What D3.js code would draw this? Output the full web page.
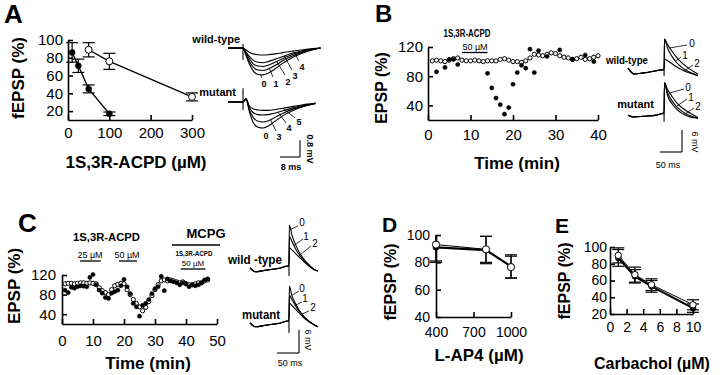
<!DOCTYPE html>
<html>
<head>
<meta charset="utf-8">
<script src="https://cdn.jsdelivr.net/npm/d3@7"></script>
<style>
  body { margin: 0; background: #fff; }
  svg { font-family: "Liberation Sans", Arial, Helvetica, sans-serif; }
</style>
</head>
<body>
<div id="fig"></div>
<script>
// ---------- data ----------
// A: fEPSP vs 1S,3R-ACPD dose
var doseA_wt = [50, 100, 300];
var fepspA_wt = [89, 76, 36];
var errA_wt = [8, 9, 4.5];
var doseA_mut = [10, 25, 50, 100];
var fepspA_mut = [86, 71, 45, 17];
var errA_mut = [11, 7.5, 4.5, 2];

// B: EPSP time course, 50 uM ACPD
var timeB_wt = [1,2,3,4,5,6,7,8,9,10,11,12,13,14,15,16,17,18,19,20,21,22,23,24,25,26,27,28,29,30,31,32,33,34,35,36,37,38,39,40];
var epspB_wt = [101,102,101,100,102,104,105,102,101,101,102,101,100,101,101,101,103,104,102,100,100,99,101,105,110,109,108,110,112,111,108,106,105,103,104,106,103,104,106,108];
var timeB_mut = [2,4,5,6,7,14,15,16,17,18,19,20,21,22,23,24,25,26,28,31,34,37,39];
var epspB_mut = [86,92,103,103,96,84,64,50,41,28,37,69,85,95,91,117,85,115,107,116,103,109,100];
var barB = [8, 14];

// C: EPSP time course, ACPD then MCPG
var timeC = [1,2,3,4,5,6,7,8,9,10,11,12,13,14,15,16,17,18,19,20,21,22,23,24,25,26,27,28,29,30,31,32,33,34,35,36,37,38,39,40,41,42,43,44,45,46,47];
var epspC_wt = [102,103,103,102,103,104,104,103,104,103,102,94,88,84,80,90,98,101,103,102,90,80,70,62,55,47,54,66,78,90,100,108,110,108,110,108,106,104,106,102,100,100,102,104,104,108,110];
var epspC_mut = [89,84,95,93,96,98,97,96,115,121,100,89,83,74,72,83,86,89,98,111,96,82,62,55,36,58,62,70,82,92,96,117,88,112,108,106,104,100,104,102,96,100,98,100,104,110,112];
var barC25 = [5.8, 12.5];
var barC50 = [18.4, 24.2];
var barMCPG = [35.5, 51];
var barC50b = [38.3, 46.3];

// D: fEPSP vs L-AP4
var doseD = [400, 800, 1000];
var fepspD_wt = [93, 89.5, 76.5];
var errD_wt = [12, 9.5, 8];
var fepspD_mut = [91, 89, 77];
var errD_mut = [11, 10, 8.5];

// E: fEPSP vs carbachol
var doseE = [1, 3, 5, 10];
var fepspE_wt = [90, 67, 55, 31];
var errE_wt = [9, 9, 7, 6];
var fepspE_mut = [87, 65, 53, 27];
var errE_mut = [10, 8, 7, 5];

// sample traces (ms, mV)
var trTimeA = [0, 6, 7, 8.5, 10, 12, 14, 16, 19, 22, 26, 30, 34, 37];
var trA_wt = [
  [0, 0, -0.3, -0.75, -1.08, -1.26, -1.28, -1.2, -0.98, -0.72, -0.44, -0.24, -0.08, 0],
  [0, 0, -0.25, -0.62, -0.9, -1.05, -1.07, -1.0, -0.82, -0.6, -0.37, -0.2, -0.07, 0],
  [0, 0, -0.2, -0.5, -0.74, -0.86, -0.88, -0.82, -0.67, -0.5, -0.3, -0.16, -0.06, 0],
  [0, 0, -0.16, -0.4, -0.58, -0.68, -0.7, -0.65, -0.53, -0.4, -0.24, -0.13, -0.05, 0],
  [0, 0, -0.08, -0.2, -0.28, -0.32, -0.33, -0.32, -0.28, -0.22, -0.14, -0.08, -0.03, 0]
];
var tagsA_wt = ["0", "1", "2", "3", "4"];
var trTimeAm = [0, 6, 7.2, 8.5, 10, 12, 14, 16, 19, 22, 26, 30, 34, 35];
var trA_mut = [
  [0, 0, 0.15, -0.45, -0.95, -1.2, -1.24, -1.15, -0.9, -0.65, -0.4, -0.22, -0.1, -0.08],
  [0, 0, 0.15, -0.35, -0.72, -0.92, -0.95, -0.9, -0.72, -0.54, -0.34, -0.2, -0.09, -0.07],
  [0, 0, 0.15, -0.25, -0.5, -0.6, -0.62, -0.6, -0.52, -0.42, -0.28, -0.17, -0.08, -0.06],
  [0, 0, 0.15, -0.18, -0.32, -0.38, -0.4, -0.4, -0.36, -0.3, -0.21, -0.13, -0.07, -0.05]
];
var tagsA_mut = ["0", "3", "4", "5"];

var trTimeB = [0, 14, 35, 65, 80, 82, 83, 90, 100, 110, 120, 135, 150, 159];
var trB_wt = [
  [1.6, 0, 0.3, 0.9, 1.2, 1.2, 9.5, 8.0, 6.2, 4.6, 3.3, 1.8, 0.6, 0.0],
  [1.6, 0, 0.3, 0.9, 1.2, 1.2, 9.5, 7.0, 4.8, 3.2, 2.0, 0.8, 0.0, -0.4],
  [1.6, 0, 0.3, 0.9, 1.2, 1.2, 4.0, 3.6, 2.8, 2.0, 1.3, 0.5, -0.1, -0.5]
];
var trB_mut = [
  [0.5, 0, 0.2, 0.5, 1.0, 1.0, 9.3, 7.5, 5.6, 4.0, 2.8, 1.5, 0.5, -0.2],
  [0.5, 0, 0.2, 0.5, 1.0, 1.0, 9.3, 6.6, 4.4, 2.9, 1.8, 0.7, 0.0, -0.3],
  [0.5, 0, 0.2, 0.5, 1.0, 1.0, 9.3, 5.8, 3.6, 2.2, 1.2, 0.3, -0.2, -0.3]
];
var trTimeC = [0, 12, 35, 70, 86, 88.6, 89.5, 95, 105, 115, 125, 135, 145, 154];
var trC_wt = [
  [0.8, -0.2, 0.2, 0.8, 1.3, 1.3, 12, 9.5, 6.5, 4.3, 2.7, 1.5, 0.5, 0],
  [0.8, -0.2, 0.2, 0.8, 1.3, 1.3, 9.0, 7.8, 5.5, 3.8, 2.4, 1.3, 0.4, 0],
  [0.8, -0.2, 0.2, 0.8, 1.3, 1.3, 6.0, 5.5, 4.4, 3.3, 2.2, 1.2, 0.4, 0]
];
var trC_mut = [
  [0.8, -0.2, 0.2, 0.8, 1.3, 1.3, 10.4, 8.0, 5.5, 3.6, 2.2, 1.2, 0.4, -0.2],
  [0.8, -0.2, 0.2, 0.8, 1.3, 1.3, 8.0, 7.0, 5.0, 3.4, 2.1, 1.1, 0.4, -0.2],
  [0.8, -0.2, 0.2, 0.8, 1.3, 1.3, 6.0, 5.4, 4.2, 3.0, 1.9, 1.0, 0.3, -0.2]
];
var tags012 = ["0", "1", "2"];

// ---------- drawing ----------
var svg = d3.select("#fig").append("svg")
  .attr("width", 720)
  .attr("height", 375);

function text(x, y, s, size, opts) {
  opts = opts || {};
  var t = svg.append("text")
    .attr("x", x)
    .attr("y", y)
    .attr("font-size", size + "px")
    .attr("font-weight", opts.bold ? 700 : 400)
    .attr("text-anchor", opts.anchor || "middle")
    .attr("fill", "#000")
    .text(s);
  if (opts.len) t.attr("textLength", opts.len).attr("lengthAdjust", "spacingAndGlyphs");
  return t;
}

function vtext(x, y, s, size, rot, bold) {
  svg.append("text")
    .attr("transform", `translate(${x},${y}) rotate(${rot})`)
    .attr("font-size", size + "px")
    .attr("font-weight", bold ? 700 : 400)
    .attr("text-anchor", "middle")
    .attr("dominant-baseline", "central")
    .text(s);
}

function line(x1, y1, x2, y2, w) {
  svg.append("line")
    .attr("x1", x1).attr("y1", y1).attr("x2", x2).attr("y2", y2)
    .attr("stroke", "#000").attr("stroke-width", w || 1);
}

// axes with inward ticks
function axes(x, y, xt, yt, fs, xpad, ypad) {
  var gx = svg.append("g")
    .attr("transform", `translate(0,${y.range()[0]})`)
    .call(d3.axisBottom(x).tickValues(xt).tickFormat(d3.format("d"))
      .tickSizeInner(-5).tickSizeOuter(0).tickPadding(xpad));
  var gy = svg.append("g")
    .attr("transform", `translate(${x.range()[0]},0)`)
    .call(d3.axisLeft(y).tickValues(yt).tickFormat(d3.format("d"))
      .tickSizeInner(-5).tickSizeOuter(0).tickPadding(ypad));
  [gx, gy].forEach(function(g) {
    g.attr("font-family", null).attr("font-size", fs + "px");
    g.selectAll("path, line").attr("stroke", "#000").attr("stroke-width", 1.6);
    g.selectAll("text").attr("fill", "#000");
  });
}

function errBars(x, y, xs, ms, es, cap) {
  var lo = y.domain()[0], hi = y.domain()[1];
  xs.forEach(function(d, i) {
    var a = Math.max(ms[i] - es[i], lo), b = Math.min(ms[i] + es[i], hi);
    line(x(d), y(a), x(d), y(b), 1.2);
    if (ms[i] - es[i] >= lo) line(x(d) - cap, y(ms[i] - es[i]), x(d) + cap, y(ms[i] - es[i]), 1.2);
    if (ms[i] + es[i] <= hi) line(x(d) - cap, y(ms[i] + es[i]), x(d) + cap, y(ms[i] + es[i]), 1.2);
  });
}

function connect(x, y, xs, ms, w) {
  svg.append("path")
    .attr("d", d3.line().x((d, i) => x(xs[i])).y(d => y(d))(ms))
    .attr("fill", "none").attr("stroke", "#000").attr("stroke-width", w);
}

function dots(x, y, xs, ms, r, open) {
  svg.append("g").selectAll("circle")
    .data(ms)
    .enter()
    .append("circle")
    .attr("cx", (d, i) => x(xs[i]))
    .attr("cy", d => y(d))
    .attr("r", r)
    .attr("fill", open ? "#fff" : "#000")
    .attr("stroke", "#000")
    .attr("stroke-width", open ? 1 : 0.5);
}

// trace group: x0 = px at 0 ms, y0 = px at 0 mV
function traces(cfg) {
  var tx = d3.scaleLinear().domain([0, 100]).range([cfg.x0, cfg.x0 + 100 * cfg.pxMs]);
  var ty = d3.scaleLinear().domain([0, 1]).range([cfg.y0, cfg.y0 - cfg.pxMv]);
  var ln = d3.line().x((d, i) => tx(cfg.time[i])).y(d => ty(d)).curve(d3.curveMonotoneX);
  cfg.data.forEach(function(tr) {
    svg.append("path").attr("d", ln(tr))
      .attr("fill", "none").attr("stroke", "#000").attr("stroke-width", 1.1);
  });
  line(tx(cfg.stim), ty(cfg.art[0]), tx(cfg.stim), ty(cfg.art[1]), 1.1);
  cfg.labels.forEach(function(l) {
    if (l.t != null) {
      var v = d3.scaleLinear().domain(cfg.time).range(cfg.data[l.k])(l.t);
      line(tx(l.t), ty(v), l.ex, l.ey, 0.8);
    }
    text(l.lx, l.ly + 3.5, cfg.tags[l.k], cfg.fs, { bold: cfg.bold });
  });
}

function scaleBar(cx, cy, ms, mv, pxMs, pxMv) {
  line(cx - ms * pxMs, cy, cx, cy, 1.1);
  line(cx, cy, cx, cy - mv * pxMv, 1.1);
}

// ---------- Panel A ----------
text(4, 23, "A", 26, { bold: true, anchor: "start" });
var xA = d3.scaleLinear().domain([0, 300]).range([68, 192]);
var yA = d3.scaleLinear().domain([10, 100]).range([120, 40]);
axes(xA, yA, [0, 100, 200, 300], [20, 40, 60, 80, 100], 15, 7, 5);
connect(xA, yA, doseA_wt, fepspA_wt, 1.3);
connect(xA, yA, doseA_mut, fepspA_mut, 1.3);
errBars(xA, yA, doseA_wt, fepspA_wt, errA_wt, 6);
errBars(xA, yA, doseA_mut, fepspA_mut, errA_mut, 6);
dots(xA, yA, doseA_wt, fepspA_wt, 3.5, true);
dots(xA, yA, doseA_mut, fepspA_mut, 3, false);
vtext(18.5, 78, "fEPSP (%)", 17, -90, true);
text(136, 168, "1S,3R-ACPD (\u00b5M)", 17, { bold: true });

text(240, 43, "wild-type", 11, { bold: true, anchor: "end" });
text(236, 96, "mutant", 11, { bold: true, anchor: "end" });
traces({
  x0: 228, pxMs: 2.5, y0: 48, pxMv: 21, time: trTimeA, data: trA_wt, stim: 6, art: [0.19, -0.56],
  tags: tagsA_wt, fs: 9, bold: true,
  labels: [
    { k: 0, t: 13, ex: 262, ey: 78, lx: 264, ly: 83 },
    { k: 1, t: 16.5, ex: 273, ey: 77, lx: 276, ly: 83 },
    { k: 2, t: 19.5, ex: 285, ey: 75, lx: 288, ly: 81 },
    { k: 3, t: 22.5, ex: 292, ey: 70, lx: 295, ly: 75 },
    { k: 4, t: 26, ex: 299, ey: 61, lx: 302, ly: 66 }
  ]
});
traces({
  x0: 228, pxMs: 2.5, y0: 102, pxMv: 21, time: trTimeAm, data: trA_mut, stim: 6, art: [0.66, -0.38],
  tags: tagsA_mut, fs: 9, bold: true,
  labels: [
    { k: 0, t: null, lx: 266, ly: 135 },
    { k: 1, t: 17, ex: 276, ey: 131, lx: 279, ly: 136 },
    { k: 2, t: 20, ex: 286, ey: 123, lx: 289, ly: 127 },
    { k: 3, t: 22, ex: 295, ey: 118, lx: 299, ly: 121 }
  ]
});
scaleBar(300, 157, 8, 0.8, 2.5, 21);
vtext(310, 149, "0.8 mV", 9, 90, true);
text(291, 170, "8 ms", 9, { bold: true });

// ---------- Panel B ----------
text(375, 22, "B", 24, { bold: true, anchor: "start" });
var xB = d3.scaleLinear().domain([0, 40]).range([428, 598]);
var yB = d3.scaleLinear().domain([20, 120]).range([120, 47]);
axes(xB, yB, [0, 10, 20, 30, 40], [40, 80, 120], 15, 9, 5);
dots(xB, yB, timeB_wt, epspB_wt, 2.1, true);
dots(xB, yB, timeB_mut, epspB_mut, 2.1, false);
vtext(381, 88, "EPSP (%)", 16, -90, true);
text(517, 169, "Time (min)", 17, { bold: true });
text(467, 37, "1S,3R-ACPD", 10, { bold: true, len: 47 });
text(475, 50, "50 \u00b5M", 9);
line(xB(barB[0]), 52.5, xB(barB[1]), 52.5, 1.3);

text(648, 64, "wild-type", 11, { bold: true, anchor: "end", len: 42 });
text(654, 108, "mutant", 11, { bold: true, anchor: "end" });
traces({
  x0: 628, pxMs: 0.44, y0: 74, pxMv: 3.67, time: trTimeB, data: trB_wt, stim: 82, art: [1.2, -0.55],
  tags: tags012, fs: 10,
  labels: [
    { k: 0, t: 95, ex: 687, ey: 45, lx: 692, ly: 43 },
    { k: 1, t: 108, ex: 681, ey: 57, lx: 685, ly: 55 },
    { k: 2, t: 128, ex: 693, ey: 65, lx: 697, ly: 63 }
  ]
});
traces({
  x0: 628, pxMs: 0.44, y0: 117, pxMv: 3.67, time: trTimeB, data: trB_mut, stim: 82, art: [1.0, -1.3],
  tags: tags012, fs: 10,
  labels: [
    { k: 0, t: 95, ex: 684, ey: 89, lx: 688, ly: 87 },
    { k: 1, t: 110, ex: 687, ey: 99, lx: 691, ly: 97 },
    { k: 2, t: 128, ex: 694, ey: 108, lx: 698, ly: 106 }
  ]
});
scaleBar(682, 152, 50, 6, 0.44, 3.67);
vtext(695, 142, "6 mV", 9, 90, false);
text(668, 168, "50 ms", 9);

// ---------- Panel C ----------
text(18, 232, "C", 26, { bold: true, anchor: "start" });
var xC = d3.scaleLinear().domain([0, 50]).range([62, 217]);
var yC = d3.scaleLinear().domain([20, 120]).range([324, 275]);
axes(xC, yC, [0, 10, 20, 30, 40, 50], [40, 80, 120], 15, 11, 6);
dots(xC, yC, timeC, epspC_wt, 2.1, true);
dots(xC, yC, timeC, epspC_mut, 2.1, false);
vtext(14, 286, "EPSP (%)", 17, -90, true);
text(148, 369, "Time (min)", 17, { bold: true });
text(106.5, 241, "1S,3R-ACPD", 11, { bold: true, len: 67 });
text(90, 258, "25 \u00b5M", 9);
text(127, 258, "50 \u00b5M", 9);
line(xC(barC25[0]), 261, xC(barC25[1]), 261, 1.3);
line(xC(barC50[0]), 261, xC(barC50[1]), 261, 1.3);
text(206, 238, "MCPG", 13, { bold: true });
line(xC(barMCPG[0]), 245, xC(barMCPG[1]), 245, 1.3);
text(194, 256, "1S,3R-ACPD", 8, { bold: true, len: 37 });
text(193, 266, "50 \u00b5M", 8);
line(xC(barC50b[0]), 269, xC(barC50b[1]), 269, 1.3);

text(282, 264, "wild -type", 12, { bold: true, anchor: "end", len: 54 });
text(280, 319, "mutant", 12, { bold: true, anchor: "end", len: 38 });
traces({
  x0: 250, pxMs: 0.44, y0: 271, pxMv: 3.83, time: trTimeC, data: trC_wt, stim: 88.6, art: [1.3, -1.3],
  tags: tags012, fs: 10,
  labels: [
    { k: 0, t: 92, ex: 298, ey: 226, lx: 302, ly: 222 },
    { k: 1, t: 100, ex: 303, ey: 239, lx: 306, ly: 236 },
    { k: 2, t: 110, ex: 311, ey: 246, lx: 315, ly: 243 }
  ]
});
traces({
  x0: 250, pxMs: 0.44, y0: 326, pxMv: 3.83, time: trTimeC, data: trC_mut, stim: 88.6, art: [1.3, -1.8],
  tags: tags012, fs: 10,
  labels: [
    { k: 0, t: 95, ex: 299, ey: 291, lx: 302, ly: 288 },
    { k: 1, t: 103, ex: 302, ey: 302, lx: 305, ly: 298 },
    { k: 2, t: 115, ex: 309, ey: 311, lx: 313, ly: 307 }
  ]
});
scaleBar(299, 353, 50, 6, 0.44, 3.83);
vtext(308, 340, "6 mV", 9, 90, false);
text(290, 366, "50 ms", 9);

// ---------- Panel D ----------
text(382, 232, "D", 21, { bold: true, anchor: "start" });
var xD = d3.scaleLinear().domain([400, 1000]).range([436, 511]);
var yD = d3.scaleLinear().domain([40, 100]).range([317, 235]);
axes(xD, yD, [400, 700, 1000], [40, 60, 80, 100], 14, 10, 6);
errBars(xD, yD, doseD, fepspD_wt, errD_wt, 6);
errBars(xD, yD, doseD, fepspD_mut, errD_mut, 6);
connect(xD, yD, doseD, fepspD_mut, 2.2);
connect(xD, yD, doseD.slice(0, 2), fepspD_wt.slice(0, 2), 1);
dots(xD, yD, doseD, fepspD_mut, 3, false);
dots(xD, yD, doseD, fepspD_wt, 3.6, true);
vtext(390, 282, "fEPSP (%)", 16, -90, true);
text(479, 361, "L-AP4 (\u00b5M)", 17, { bold: true });

// ---------- Panel E ----------
text(555, 233, "E", 21, { bold: true, anchor: "start" });
var xE = d3.scaleLinear().domain([0, 10]).range([610, 693]);
var yE = d3.scaleLinear().domain([20, 100]).range([314, 247]);
axes(xE, yE, [0, 2, 4, 6, 8, 10], [20, 40, 60, 80, 100], 14, 8, 3);
errBars(xE, yE, doseE, fepspE_wt, errE_wt, 6);
errBars(xE, yE, doseE, fepspE_mut, errE_mut, 6);
connect(xE, yE, doseE, fepspE_mut, 2.2);
connect(xE, yE, doseE, fepspE_wt, 1);
dots(xE, yE, doseE, fepspE_mut, 3, false);
dots(xE, yE, doseE, fepspE_wt, 3.2, true);
vtext(564, 281, "fEPSP (%)", 16, -90, true);
text(652, 369, "Carbachol (\u00b5M)", 16, { bold: true });
</script>
</body>
</html>
